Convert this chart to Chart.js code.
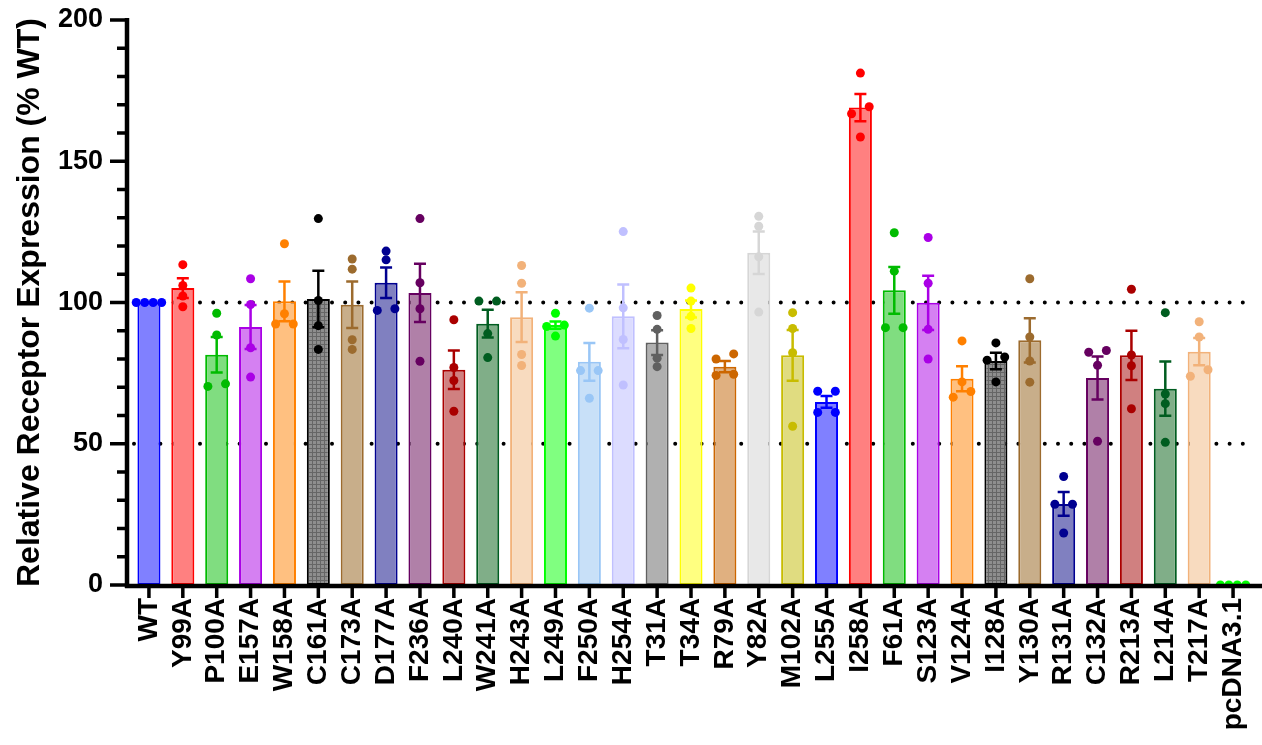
<!DOCTYPE html>
<html>
<head>
<meta charset="utf-8">
<script src="https://cdn.jsdelivr.net/npm/chart.js@4"></script>
<style>
  html, body { margin: 0; padding: 0; background: #fff; }
  #wrap { width: 1262px; height: 745px; }
</style>
</head>
<body>
<div id="wrap"><canvas id="receptorChart"></canvas></div>
<script>
// mutant names along the x axis
const labels = ['WT', 'Y99A', 'P100A', 'E157A', 'W158A', 'C161A', 'C173A', 'D177A', 'F236A', 'L240A',
  'W241A', 'H243A', 'L249A', 'F250A', 'H254A', 'T31A', 'T34A', 'R79A', 'Y82A', 'M102A',
  'L255A', 'I258A', 'F61A', 'S123A', 'V124A', 'I128A', 'Y130A', 'R131A', 'C132A', 'R213A',
  'L214A', 'T217A', 'pcDNA3.1'];

// mean and SEM (% WT)
const means = [100, 105.1, 81.5, 91.3, 100.4, 101.2, 99.2, 107.0, 103.4, 76.2,
  92.5, 94.8, 92.0, 79.0, 95.1, 85.8, 97.7, 77.3, 117.6, 81.3,
  64.8, 169.0, 104.3, 99.9, 73.0, 79.3, 86.6, 28.7, 73.3, 81.3,
  69.5, 82.6, 0];
const sems = [0, 3.5, 6.3, 7.8, 7.0, 10.0, 8.2, 5.4, 10.3, 6.8,
  4.9, 8.8, 1.3, 6.7, 11.3, 4.4, 3.0, 2.0, 7.5, 9.0,
  2.1, 4.8, 8.3, 9.6, 4.4, 2.9, 7.8, 4.2, 7.6, 8.7,
  9.6, 4.8, 0];

// individual replicates
const rep1 = [100, 113.4, 96.2, 108.4, 120.8, 129.7, 115.4, 118.2, 129.7, 93.9,
  100.5, 113.1, 96.2, 98.0, 125.1, 95.4, 105.1, 81.8, 130.5, 96.4,
  68.6, 181.2, 124.7, 123.0, 86.4, 85.7, 108.4, 38.4, 83.0, 104.7,
  96.4, 93.2, 0];
const rep2 = [100, 106.0, 88.5, 99.3, 96.0, 100.7, 111.8, 115.1, 107.0, 77.0,
  100.5, 106.8, 92.0, 75.9, 98.1, 90.5, 100.5, 80.0, 127.0, 90.8,
  68.6, 169.3, 111.1, 106.8, 71.9, 80.7, 87.8, 28.6, 82.4, 81.4,
  67.6, 87.8, 0];
const rep3 = [100, 102.3, 71.2, 84.0, 92.4, 91.8, 86.8, 97.8, 97.8, 72.4,
  89.0, 81.6, 91.5, 75.9, 86.9, 80.3, 95.1, 74.6, 116.2, 82.2,
  61.1, 166.8, 91.1, 90.5, 68.5, 79.6, 79.3, 28.6, 77.8, 77.6,
  64.2, 76.2, 0];
const rep4 = [100, 98.5, 70.3, 73.6, 92.4, 83.4, 83.4, 97.2, 79.2, 61.5,
  80.5, 77.7, 88.1, 66.1, 70.8, 77.3, 90.8, 74.2, 96.6, 56.2,
  61.1, 158.6, 91.1, 80.0, 66.5, 71.9, 71.8, 18.4, 50.9, 62.4,
  50.5, 73.9, 0];

const refLines = [50, 100];

// palette repeats every 20 bars
const edgeColors = ['#0000ff', '#ff0000', '#00bb00', '#aa00e6', '#ff8000', '#000000', '#9c6b2e', '#000090', '#660060', '#aa0000',
  '#005d20', '#f2b27a', '#00ff00', '#99c6f6', '#c0c0ff', '#606060', '#ffff00', '#cc6600', '#d6d6d6', '#c8bc00'];
const fillColors = ['#8080ff', '#ff8080', '#80dd80', '#d580f2', '#ffc080', 'grid', '#c8ae8a', '#8080c0', '#b080a8', '#d08080',
  '#80ae88', '#f8dbbf', '#80ff80', '#c8e0f8', '#dcdcff', '#b0b0b0', '#ffff80', '#e0b080', '#e8e8e8', '#e0dc80'];

const fontFamily = "'Liberation Sans', Arial, sans-serif";

const canvas = document.getElementById('receptorChart');
const ctx = canvas.getContext('2d');

// checkered fill used for the black bars
function gridPattern() {
  const tile = document.createElement('canvas');
  tile.width = 4;
  tile.height = 4;
  const t = tile.getContext('2d');
  t.fillStyle = '#8e8e8e';
  t.fillRect(0, 0, 4, 4);
  t.fillStyle = '#666';
  t.fillRect(0, 0, 4, 1);
  t.fillRect(0, 0, 1, 4);
  return ctx.createPattern(tile, 'repeat');
}
const pattern = gridPattern();

const edgeFor = i => edgeColors[i % 20];
const fillFor = i => fillColors[i % 20] === 'grid' ? pattern : fillColors[i % 20];

// replicate dots, spread sideways when they overlap
const dots = [];
const dotColors = [];
labels.forEach((lab, i) => {
  const vals = [rep1[i], rep2[i], rep3[i], rep4[i]].sort((a, b) => a - b);
  let group = [];
  const flush = () => {
    const n = group.length;
    const step = n === 2 ? 0.52 : 0.25;
    group.forEach((v, k) => {
      dots.push({ x: i + (k - (n - 1) / 2) * step, y: v });
      dotColors.push(edgeFor(i));
    });
    group = [];
  };
  vals.forEach(v => {
    if (group.length && v - group[group.length - 1] >= 2.6) flush();
    group.push(v);
  });
  flush();
});

function noPadding(scale) {
  scale.paddingTop = 0;
  scale.paddingBottom = 0;
  scale.paddingLeft = 0;
  scale.paddingRight = 0;
}

const plotDecor = {
  id: 'plotDecor',
  beforeDatasetsDraw(chart) {
    const { ctx, chartArea, scales: { y } } = chart;
    ctx.save();
    ctx.strokeStyle = '#000';
    ctx.lineWidth = 4;
    ctx.lineCap = 'round';
    ctx.setLineDash([0, 13.2]);
    refLines.forEach(v => {
      const py = y.getPixelForValue(v);
      ctx.beginPath();
      ctx.moveTo(chartArea.left + 2, py);
      ctx.lineTo(chartArea.right, py);
      ctx.stroke();
    });
    ctx.restore();
  },
  afterDatasetDraw(chart, args) {
    if (args.index !== 1) return;
    const { ctx, scales: { y } } = chart;
    const bars = chart.getDatasetMeta(1).data;
    ctx.save();
    ctx.lineWidth = 2.5;
    bars.forEach((bar, i) => {
      if (!sems[i]) return;
      const top = y.getPixelForValue(means[i] + sems[i]);
      const bot = y.getPixelForValue(means[i] - sems[i]);
      ctx.strokeStyle = edgeFor(i);
      ctx.beginPath();
      ctx.moveTo(bar.x, top);
      ctx.lineTo(bar.x, bot);
      ctx.moveTo(bar.x - 6, top);
      ctx.lineTo(bar.x + 6, top);
      ctx.moveTo(bar.x - 6, bot);
      ctx.lineTo(bar.x + 6, bot);
      ctx.stroke();
    });
    ctx.restore();
  },
  afterDraw(chart) {
    const { ctx, chartArea, scales: { x, y } } = chart;
    const ax = chartArea.left - 5;
    const ay = y.getPixelForValue(0) + 1;
    ctx.save();
    ctx.strokeStyle = '#000';
    ctx.lineWidth = 4.5;
    ctx.beginPath();
    ctx.moveTo(ax, y.getPixelForValue(200) - 2);
    ctx.lineTo(ax, ay + 2);
    ctx.moveTo(ax - 2, ay);
    ctx.lineTo(chart.width, ay);
    ctx.stroke();
    ctx.lineWidth = 3.5;
    ctx.beginPath();
    for (let v = 0; v <= 200; v += 10) {
      const py = y.getPixelForValue(v);
      ctx.moveTo(ax - (v % 50 === 0 ? 17 : 10), py);
      ctx.lineTo(ax, py);
    }
    labels.forEach((lab, i) => {
      const px = x.getPixelForValue(i);
      ctx.moveTo(px, ay);
      ctx.lineTo(px, ay + 12);
    });
    ctx.stroke();
    ctx.restore();
  }
};

new Chart(ctx, {
  type: 'bar',
  data: {
    labels: labels,
    datasets: [
      {
        type: 'scatter',
        data: dots,
        parsing: false,
        xAxisID: 'x',
        yAxisID: 'y',
        pointRadius: 4.5,
        pointBackgroundColor: dotColors,
        pointBorderWidth: 0,
        order: 0
      },
      {
        type: 'bar',
        data: means,
        xAxisID: 'x',
        yAxisID: 'y',
        backgroundColor: labels.map((l, i) => fillFor(i)),
        borderColor: labels.map((l, i) => edgeFor(i)),
        borderWidth: 2,
        borderSkipped: false,
        grouped: false,
        categoryPercentage: 1,
        barPercentage: 0.68,
        order: 1
      }
    ]
  },
  options: {
    responsive: true,
    maintainAspectRatio: false,
    animation: false,
    layout: { padding: { top: 20, right: 12, left: 0, bottom: 0 } },
    plugins: {
      legend: { display: false },
      tooltip: { enabled: false }
    },
    scales: {
      x: {
        type: 'category',
        offset: true,
        grid: { display: false, drawTicks: false },
        border: { display: false },
        ticks: {
          autoSkip: false,
          maxRotation: 90,
          minRotation: 90,
          padding: 13,
          color: '#000',
          font: { family: fontFamily, size: 28, weight: 'bold' }
        },
        afterFit(scale) { scale.height = 160; noPadding(scale); }
      },
      y: {
        min: 0,
        max: 200,
        grid: { display: false, drawTicks: false },
        border: { display: false },
        ticks: {
          stepSize: 50,
          padding: 29,
          color: '#000',
          font: { family: fontFamily, size: 27, weight: 'bold' }
        },
        title: {
          display: true,
          text: 'Relative Receptor Expression (% WT)',
          color: '#000',
          font: { family: fontFamily, size: 32, weight: 'bold' },
          padding: { top: 11, bottom: 0 }
        },
        afterFit(scale) { scale.width = 132; noPadding(scale); }
      }
    }
  },
  plugins: [plotDecor]
});
</script>
</body>
</html>
